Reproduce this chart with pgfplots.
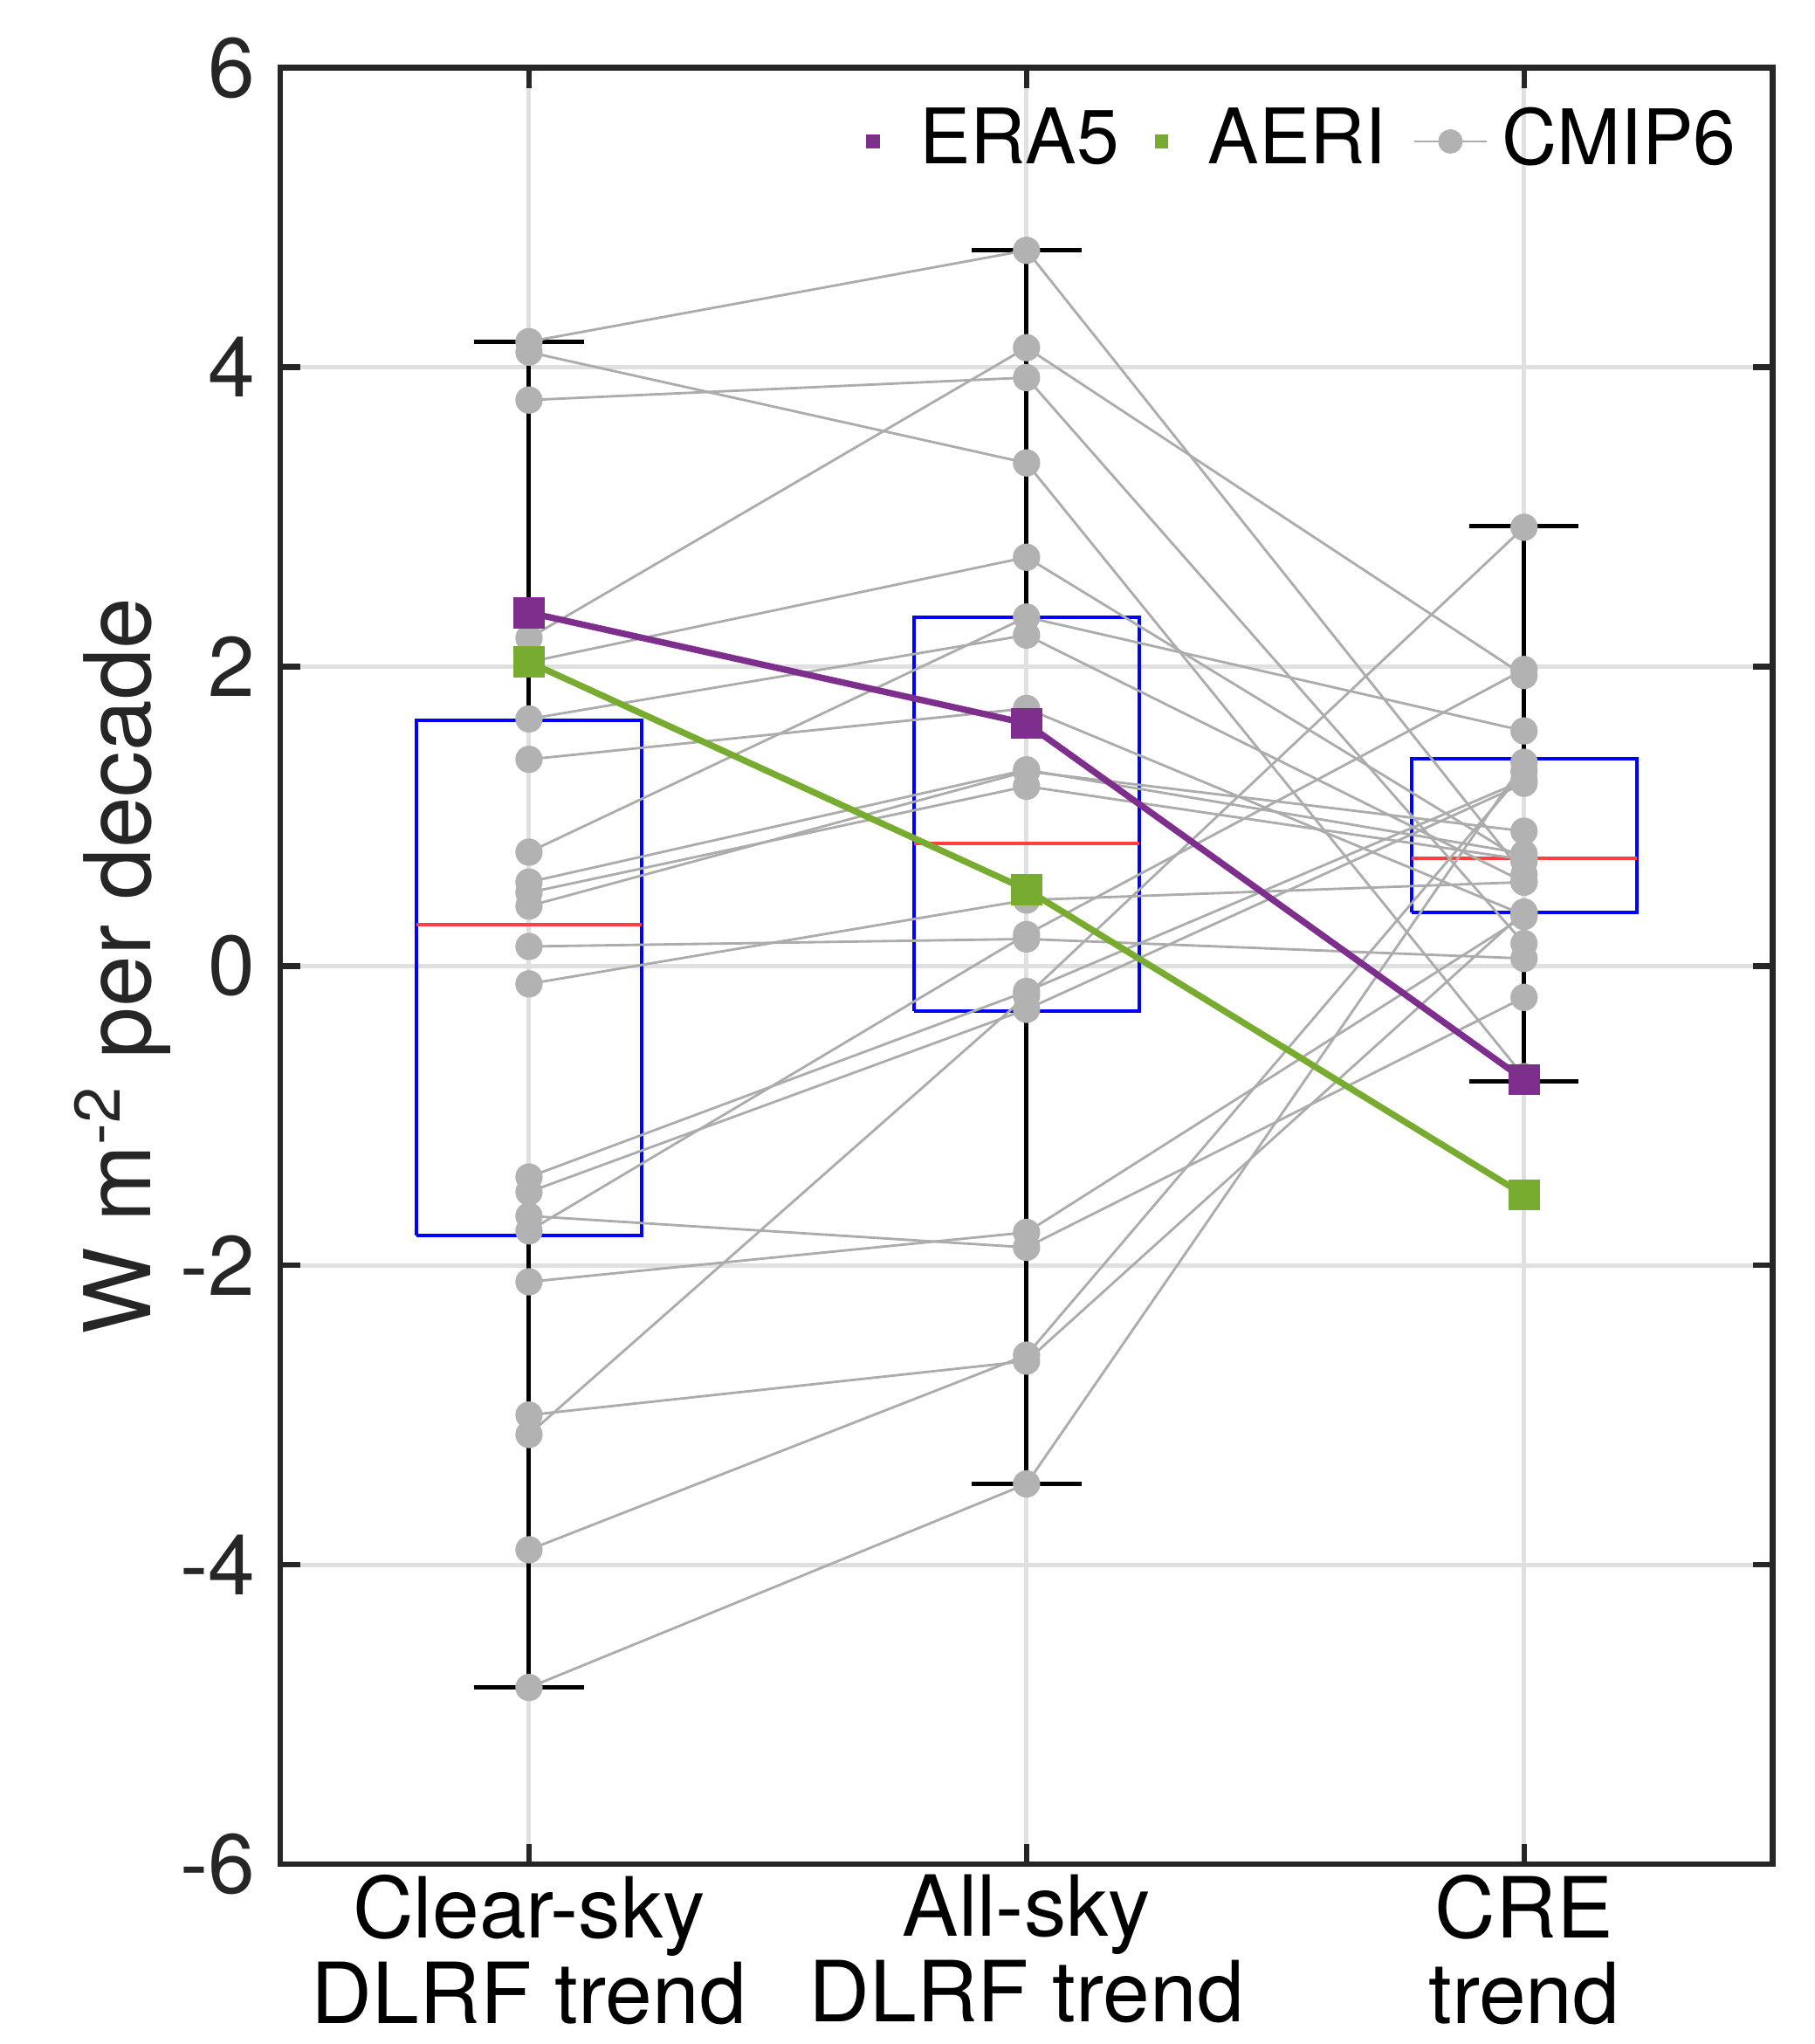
\documentclass[border=0pt]{standalone}
\usepackage{fontspec}
\setmainfont{TeX Gyre Heros}
\usepackage{pgfplots}
\pgfplotsset{compat=1.18}

\definecolor{era5}{RGB}{126,47,142}
\definecolor{aeri}{RGB}{119,172,48}
\definecolor{cmip}{RGB}{178,178,178}
\definecolor{cmipline}{RGB}{172,172,172}
\definecolor{axisgray}{RGB}{38,38,38}
\definecolor{gridgray}{RGB}{224,224,224}

\pgfplotsset{
  model/.style={cmipline, line width=0.35pt, mark=*, mark size=1.75pt,
    mark options={draw=cmip, fill=cmip}, forget plot},
  whisk/.style={black, line width=0.6pt, forget plot},
  boxs/.style={blue, line width=0.5pt, forget plot},
  med/.style={red!75, line width=0.5pt, forget plot},
  shortline/.style={legend image code/.code={
      \draw[mark repeat=2, mark phase=2, ##1] plot coordinates {(0cm,0cm) (0.18cm,0cm) (0.36cm,0cm)};}},
  dotonly/.style={legend image code/.code={
      \path[draw=none, fill=none] (0cm,0cm) rectangle (0.24cm,0cm);
      \draw[only marks, ##1] plot coordinates {(0.08cm,0cm)};}},
}

\begin{document}
\begin{tikzpicture}[font=\fontsize{11.9}{12}\selectfont]
\begin{axis}[
  name=ax,
  scale only axis,
  width=7.404cm, height=8.910cm,
  xmin=0.5, xmax=3.5, ymin=-6, ymax=6,
  xtick={1,2,3},
  xticklabels={{Clear-sky\\DLRF trend}, {All-sky\\DLRF trend}, {CRE\\trend}},
  xticklabel style={align=center, text=black, yshift=2pt},
  ytick={-6,-4,-2,0,2,4,6},
  yticklabels={-6,-4,-2,0,2,4,6},
  yticklabel style={text=axisgray},
  grid=major,
  major grid style={gridgray, line width=0.6pt},
  tick align=inside,
  major tick length=0.1cm,
  tick style={axisgray, line width=0.8pt},
  axis line style={axisgray, line width=0.8pt},
  ylabel={W m\textsuperscript{-2} per decade},
  ylabel style={text=axisgray, font=\fontsize{13}{15}\selectfont},
  ylabel shift=-5.5pt,
  legend style={draw=none, fill=none, at={(1,1)}, anchor=north east,
    xshift=0cm, yshift=-0.05cm, legend columns=-1,
    font=\fontsize{10.8}{12}\selectfont,
    /tikz/every even column/.append style={column sep=0.06cm}},
]

% boxes: clear-sky, all-sky, CRE
\addplot[boxs] coordinates {(0.774,-1.80) (1.226,-1.80) (1.226,1.64) (0.774,1.64) (0.774,-1.80)};
\addplot[boxs] coordinates {(1.774,-0.30) (2.226,-0.30) (2.226,2.33) (1.774,2.33) (1.774,-0.30)};
\addplot[boxs] coordinates {(2.774,0.36) (3.226,0.36) (3.226,1.385) (2.774,1.385) (2.774,0.36)};
\addplot[med] coordinates {(0.774,0.275) (1.226,0.275)};
\addplot[med] coordinates {(1.774,0.82) (2.226,0.82)};
\addplot[med] coordinates {(2.774,0.72) (3.226,0.72)};

% whiskers
\addplot[whisk] coordinates {(1,1.64) (1,4.17)};
\addplot[whisk] coordinates {(1,-1.80) (1,-4.82)};
\addplot[whisk] coordinates {(0.89,4.17) (1.11,4.17)};
\addplot[whisk] coordinates {(0.89,-4.82) (1.11,-4.82)};
\addplot[whisk] coordinates {(2,2.33) (2,4.78)};
\addplot[whisk] coordinates {(2,-0.30) (2,-3.46)};
\addplot[whisk] coordinates {(1.89,4.78) (2.11,4.78)};
\addplot[whisk] coordinates {(1.89,-3.46) (2.11,-3.46)};
\addplot[whisk] coordinates {(3,1.385) (3,2.94)};
\addplot[whisk] coordinates {(3,0.36) (3,-0.77)};
\addplot[whisk] coordinates {(2.89,2.94) (3.11,2.94)};
\addplot[whisk] coordinates {(2.89,-0.77) (3.11,-0.77)};

% CMIP6 models: clear-sky, all-sky, CRE
\addplot[model] coordinates {(1,4.17) (2,4.78) (3,0.61)};
\addplot[model] coordinates {(1,4.10) (2,3.36) (3,-0.74)};
\addplot[model] coordinates {(1,3.78) (2,3.93) (3,0.15)};
\addplot[model] coordinates {(1,2.19) (2,4.13) (3,1.94)};
\addplot[model] coordinates {(1,2.03) (2,2.73) (3,0.70)};
\addplot[model] coordinates {(1,1.65) (2,2.21) (3,0.56)};
\addplot[model] coordinates {(1,1.38) (2,1.72) (3,0.34)};
\addplot[model] coordinates {(1,0.76) (2,2.33) (3,1.57)};
\addplot[model] coordinates {(1,0.56) (2,1.31) (3,0.75)};
\addplot[model] coordinates {(1,0.49) (2,1.20) (3,0.71)};
\addplot[model] coordinates {(1,0.40) (2,1.30) (3,0.90)};
\addplot[model] coordinates {(1,0.13) (2,0.18) (3,0.05)};
\addplot[model] coordinates {(1,-0.12) (2,0.44) (3,0.56)};
\addplot[model] coordinates {(1,-1.41) (2,-0.17) (3,1.24)};
\addplot[model] coordinates {(1,-1.51) (2,-0.29) (3,1.22)};
\addplot[model] coordinates {(1,-1.67) (2,-1.88) (3,-0.21)};
\addplot[model] coordinates {(1,-1.77) (2,0.21) (3,1.98)};
\addplot[model] coordinates {(1,-2.11) (2,-1.78) (3,0.33)};
\addplot[model] coordinates {(1,-3.00) (2,-2.64) (3,0.36)};
\addplot[model] coordinates {(1,-3.13) (2,-0.20) (3,2.93)};
\addplot[model] coordinates {(1,-3.90) (2,-2.60) (3,1.30)};
\addplot[model] coordinates {(1,-4.82) (2,-3.46) (3,1.36)};

% observations / reanalysis
\addplot[era5, line width=0.9pt, mark=square*, mark size=1.75pt, forget plot]
  coordinates {(1,2.36) (2,1.62) (3,-0.76)};
\addplot[aeri, line width=0.9pt, mark=square*, mark size=1.75pt, forget plot]
  coordinates {(1,2.03) (2,0.51) (3,-1.53)};

\addlegendimage{dotonly, mark=square*, mark size=0.75pt, era5}
\addlegendentry{ERA5}
\addlegendimage{dotonly, mark=square*, mark size=0.75pt, aeri}
\addlegendentry{AERI}
\addlegendimage{shortline, cmipline, line width=0.35pt, mark=*, mark size=1.55pt, mark options={draw=cmip, fill=cmip}}
\addlegendentry{CMIP6}
\end{axis}
\pgfresetboundingbox
\path[use as bounding box] ([xshift=-1.390cm,yshift=-0.892cm]ax.south west)
  rectangle ([xshift=0.207cm,yshift=0.336cm]ax.north east);
\end{tikzpicture}
\end{document}
